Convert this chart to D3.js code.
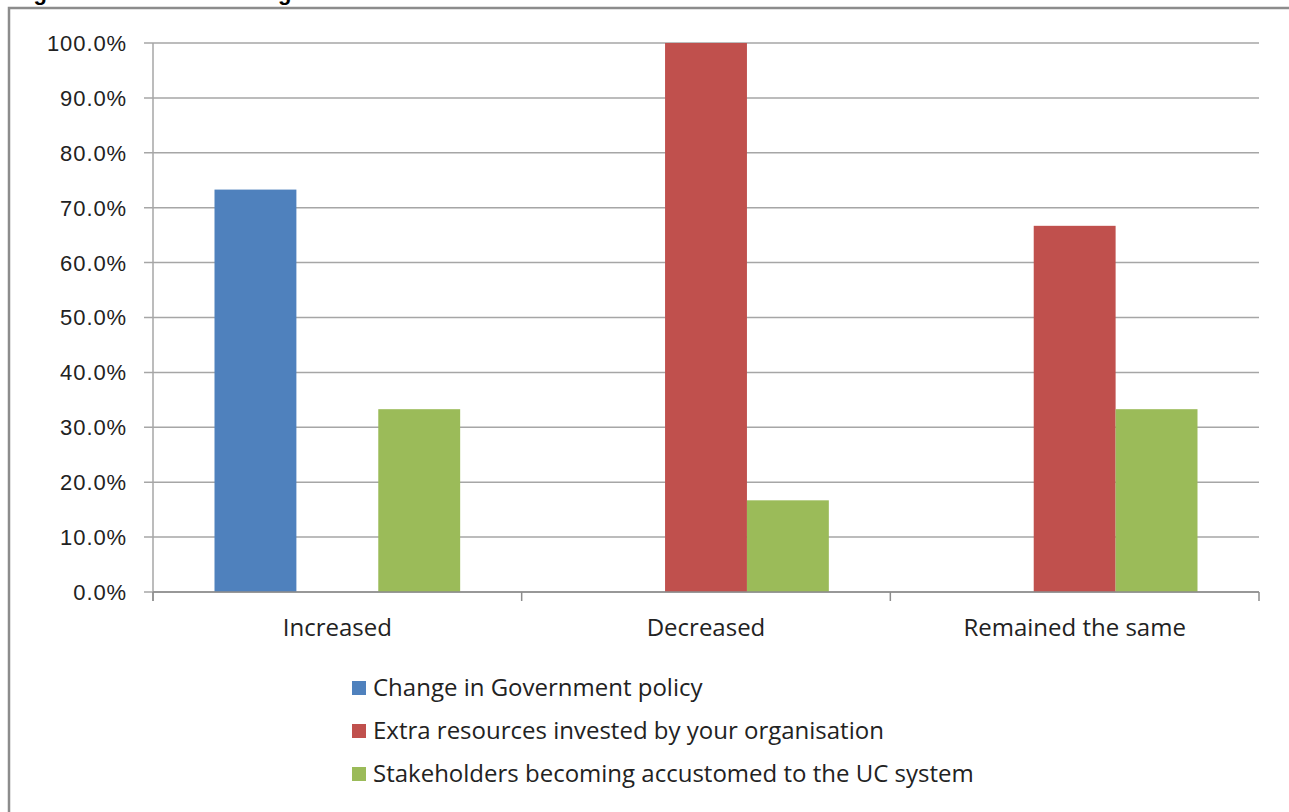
<!DOCTYPE html>
<html>
<head>
<meta charset="utf-8">
<script src="https://cdn.jsdelivr.net/npm/d3@7"></script>
<style>
  body { margin: 0; background: #fff; }
  svg { display: block; }
</style>
</head>
<body>
<svg id="chart"></svg>
<script>
const categories = ["Increased", "Decreased", "Remained the same"];
const seriesNames = [
  "Change in Government policy",
  "Extra resources invested by your organisation",
  "Stakeholders becoming accustomed to the UC system"
];
const govPolicy = [73.3, 0, 0];
const extraResources = [0, 100, 66.7];
const stakeholders = [33.3, 16.7, 33.3];
const yTicks = [0, 10, 20, 30, 40, 50, 60, 70, 80, 90, 100];
const colors = ["#4F81BD", "#C0504D", "#9BBB59"];

const seriesValues = [govPolicy, extraResources, stakeholders];

const width = 1289, height = 812;
const margin = { top: 43, left: 153, right: 30, bottom: 220 };
const plotW = 1259 - margin.left;
const plotH = 592 - margin.top;

const svg = d3.select("#chart").attr("width", width).attr("height", height);

// figure title, cut off by the top edge as in the source
svg.append("text")
  .attr("x", 14).attr("y", 0)
  .style("font-family", "Liberation Sans, Arial, sans-serif")
  .style("font-weight", "bold")
  .style("font-size", "22px")
  .text("Figure 9 Reason for change in error rate");

// chart frame
svg.append("rect")
  .attr("x", 9).attr("y", 8)
  .attr("width", 1300).attr("height", 820)
  .attr("fill", "none")
  .attr("stroke", "#8c8c8c")
  .attr("stroke-width", 2.5);

const g = svg.append("g").attr("transform", `translate(${margin.left},${margin.top})`);

const x0 = d3.scaleBand().domain(categories).range([0, plotW]).padding(0);
const x1 = d3.scaleBand().domain(seriesNames).range([61.5, x0.bandwidth() - 61.5]).padding(0);
const y = d3.scaleLinear().domain([0, 100]).range([plotH, 0]);

// gridlines
g.selectAll("line.grid")
  .data(yTicks)
  .enter()
  .append("line")
  .attr("class", "grid")
  .attr("x1", -9).attr("x2", plotW)
  .attr("y1", d => y(d)).attr("y2", d => y(d))
  .attr("stroke", "#a6a6a6")
  .attr("stroke-width", 1.5);

// y axis line
g.append("line")
  .attr("x1", 0).attr("x2", 0)
  .attr("y1", 0).attr("y2", plotH + 9)
  .attr("stroke", "#a6a6a6")
  .attr("stroke-width", 1.5);

// y tick labels
g.selectAll("text.ytick")
  .data(yTicks)
  .enter()
  .append("text")
  .attr("class", "ytick")
  .attr("x", -26)
  .attr("y", d => y(d))
  .attr("dy", "0.36em")
  .attr("text-anchor", "end")
  .style("font-family", "Liberation Sans, Arial, sans-serif")
  .style("font-size", "22px")
  .style("letter-spacing", "0.9px")
  .style("fill", "#222")
  .text(d => d.toFixed(1) + "%");

// bars
const groups = g.selectAll("g.cat")
  .data(categories)
  .enter()
  .append("g")
  .attr("transform", d => `translate(${x0(d)},0)`);

groups.selectAll("rect")
  .data((c, i) => seriesNames.map((s, k) => ({ s, k, v: seriesValues[k][i] })))
  .enter()
  .append("rect")
  .filter(d => d.v > 0)
  .attr("x", d => x1(d.s))
  .attr("y", d => y(d.v))
  .attr("width", x1.bandwidth())
  .attr("height", d => plotH - y(d.v))
  .attr("fill", d => colors[d.k]);

// x axis
const xAxis = g.append("g")
  .attr("transform", `translate(0,${plotH})`);
xAxis.append("line")
  .attr("x1", 0).attr("x2", plotW)
  .attr("stroke", "#8c8c8c").attr("stroke-width", 1.5);
xAxis.selectAll("line.tick")
  .data(d3.range(categories.length + 1))
  .enter()
  .append("line")
  .attr("x1", i => i * x0.step()).attr("x2", i => i * x0.step())
  .attr("y1", 0).attr("y2", 9)
  .attr("stroke", "#8c8c8c").attr("stroke-width", 1.5);
xAxis.selectAll("text")
  .data(categories)
  .enter()
  .append("text")
  .attr("x", d => x0(d) + x0.bandwidth() / 2)
  .attr("y", 44)
  .attr("text-anchor", "middle")
  .style("font-family", "Open Sans, sans-serif")
  .style("font-size", "24px")
  .style("fill", "#222")
  .text(d => d);

// legend
const legend = svg.append("g").attr("transform", "translate(352,688)");
const item = legend.selectAll("g")
  .data(seriesNames)
  .enter()
  .append("g")
  .attr("transform", (d, i) => `translate(0,${i * 43})`);
item.append("rect")
  .attr("x", 0).attr("y", -7)
  .attr("width", 14).attr("height", 14)
  .attr("fill", (d, i) => colors[i]);
item.append("text")
  .attr("x", 21).attr("y", 0)
  .attr("dy", "0.35em")
  .style("font-family", "Open Sans, sans-serif")
  .style("font-size", "24px")
  .style("fill", "#222")
  .text(d => d);
</script>
</body>
</html>
